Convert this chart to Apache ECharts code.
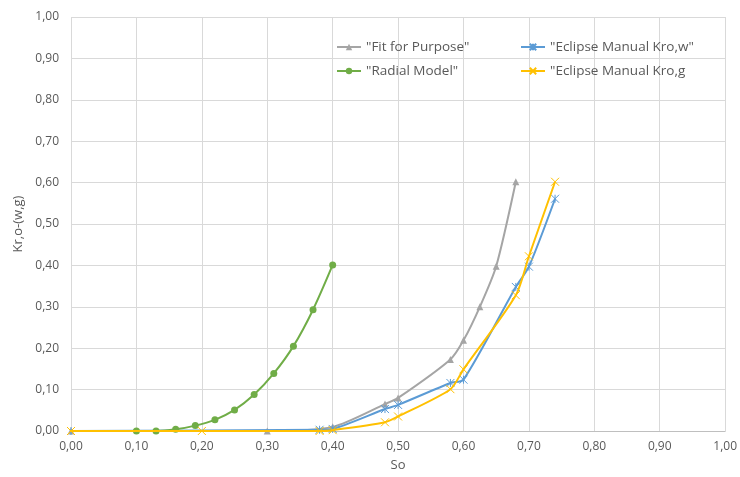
<!DOCTYPE html>
<html>
<head>
<meta charset="utf-8">
<script src="https://cdn.jsdelivr.net/npm/echarts@6/dist/echarts.min.js"></script>
<style>html,body{margin:0;padding:0;background:#fff}#c{width:740px;height:477px}</style>
</head>
<body>
<div id="c"></div>
<script>
const fitX = [0.00, 0.30, 0.40, 0.48, 0.50, 0.58, 0.60, 0.625, 0.65, 0.68];
const fitY = [0.000, 0.000, 0.010, 0.065, 0.080, 0.173, 0.219, 0.300, 0.398, 0.602];
const radialX = [0.10, 0.13, 0.16, 0.19, 0.22, 0.25, 0.28, 0.31, 0.34, 0.37, 0.40];
const radialY = [0.000, 0.000, 0.004, 0.013, 0.027, 0.051, 0.088, 0.139, 0.205, 0.293, 0.401];
const kwX = [0.00, 0.38, 0.40, 0.48, 0.50, 0.58, 0.60, 0.68, 0.70, 0.74];
const kwY = [0.000, 0.003, 0.005, 0.053, 0.063, 0.116, 0.124, 0.348, 0.397, 0.561];
const kgX = [0.00, 0.20, 0.38, 0.40, 0.48, 0.50, 0.58, 0.60, 0.68, 0.70, 0.74];
const kgY = [0.000, 0.000, 0.000, 0.002, 0.021, 0.035, 0.101, 0.149, 0.328, 0.422, 0.602];
const names = ['"Fit for Purpose"', '"Radial Model"', '"Eclipse Manual Kro,w"', '"Eclipse Manual Kro,g'];

const pair = (xs, ys) => xs.map((x, i) => [x, ys[i]]);
const fmt = v => v.toFixed(2).replace('.', ',');
const txt = '#595959';
const xPath = 'path://M0,0L10,10M10,0L0,10';
const starPath = 'path://M0,0L10,10M10,0L0,10M5,0L5,10';

const chart = echarts.init(document.getElementById('c'), null, {renderer: 'canvas'});
chart.setOption({
  animation: false,
  textStyle: {fontFamily: 'Open Sans, Liberation Sans, sans-serif'},
  grid: {left: 71, right: 12, top: 17, bottom: 45},
  legend: [
    {data: [names[0], names[1]], orient: 'vertical', left: 331, top: 35, itemGap: 10, itemWidth: 24, itemHeight: 8,
     textStyle: {color: txt, fontSize: 13.5, fontFamily: 'Open Sans, sans-serif'}},
    {data: [names[2], names[3]], orient: 'vertical', left: 515, top: 35, itemGap: 10, itemWidth: 24, itemHeight: 8,
     textStyle: {color: txt, fontSize: 13.5, fontFamily: 'Open Sans, sans-serif'}}
  ],
  xAxis: {
    type: 'value', min: 0, max: 1, interval: 0.1,
    name: 'So', nameLocation: 'middle', nameGap: 28,
    nameTextStyle: {color: txt, fontSize: 13},
    axisLine: {show: true, lineStyle: {color: '#BFBFBF'}},
    axisTick: {show: false},
    axisLabel: {color: txt, fontSize: 12, margin: 10, formatter: fmt},
    splitLine: {show: true, lineStyle: {color: '#D9D9D9'}}
  },
  yAxis: {
    type: 'value', min: 0, max: 1, interval: 0.1,
    name: 'Kr,o-(w,g)', nameLocation: 'middle', nameGap: 46, nameRotate: 90,
    nameTextStyle: {color: txt, fontSize: 13},
    axisLine: {show: false},
    axisTick: {show: false},
    axisLabel: {color: txt, fontSize: 12, margin: 12, formatter: fmt},
    splitLine: {show: true, lineStyle: {color: '#D9D9D9'}}
  },
  series: [
    {name: names[0], type: 'line', data: pair(fitX, fitY), smooth: 0.25, symbol: 'triangle', symbolSize: 7,
     itemStyle: {color: '#A5A5A5'}, lineStyle: {color: '#A5A5A5', width: 2}, z: 2},
    {name: names[2], type: 'line', data: pair(kwX, kwY), smooth: 0.25, symbol: starPath, symbolSize: 8,
     itemStyle: {color: '#5B9BD5', borderColor: '#5B9BD5', borderWidth: 1}, lineStyle: {color: '#5B9BD5', width: 2}, z: 3},
    {name: names[1], type: 'line', data: pair(radialX, radialY), smooth: 0.3, symbol: 'circle', symbolSize: 7,
     itemStyle: {color: '#70AD47'}, lineStyle: {color: '#70AD47', width: 2}, z: 4},
    {name: names[3], type: 'line', data: pair(kgX, kgY), smooth: 0.25, symbol: xPath, symbolSize: 8,
     itemStyle: {color: '#FFC000', borderColor: '#FFC000', borderWidth: 1}, lineStyle: {color: '#FFC000', width: 2}, z: 5}
  ]
});
</script>
</body>
</html>
